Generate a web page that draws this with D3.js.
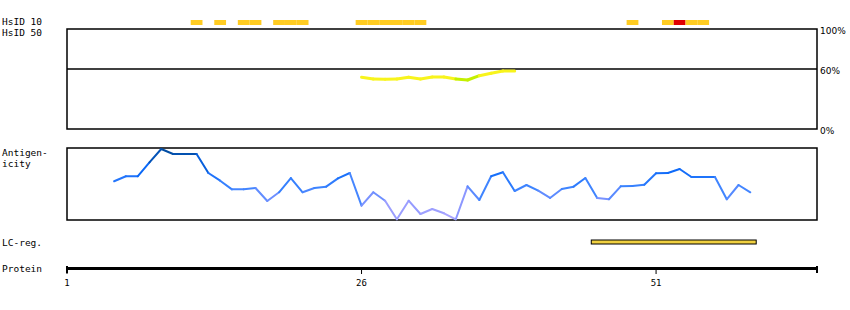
<!DOCTYPE html>
<html>
<head>
<meta charset="utf-8">
<script src="https://cdn.jsdelivr.net/npm/d3@7"></script>
<style>
body { margin: 0; background: #fff; }
text { font-family: "DejaVu Sans Mono", monospace; font-size: 10px; fill: #000; }
.pct { font-family: "DejaVu Sans", sans-serif; font-size: 9px; }
</style>
</head>
<body>
<div id="chart"></div>
<script>
// protein length and axis ticks
let proteinLength = 64;
let proteinTicks = [1, 26, 51];

// HsID 10 hits: residue -> level (1 = orange, 2 = red)
let hsid10Residues = [12, 14, 16, 17, 19, 20, 21, 26, 27, 28, 29, 30, 31, 49, 52, 53, 54, 55];
let hsid10Levels   = [1, 1, 1, 1, 1, 1, 1, 1, 1, 1, 1, 1, 1, 1, 1, 2, 1, 1];

// HsID 50 identity (%)
let hsid50Residues = [26, 27, 28, 29, 30, 31, 32, 33, 34, 35, 36, 37, 38, 39];
let hsid50Values   = [51.7, 50, 49.7, 50, 51.7, 50, 52, 52, 50, 49, 53.3, 55.7, 58, 58];
let hsid50Ticks = [0, 60, 100];

// antigenicity score (0-100 relative)
let antigenResidues = d3.range(5, 60);
let antigenValues = [
    53.8, 60.7, 60.7, 80.1, 98.6, 91.7, 91.7, 91.7, 65.3, 54.6,
    42.6, 42.6, 44.4, 26.4, 38.5, 58.3, 38.5, 44.4, 46.3, 57.9,
    65.3, 19.9, 38.5, 26.8, 1, 26.8, 8.3, 15.3, 9.3, 1,
    46.8, 27.8, 60.7, 66.3, 40.3, 48.6, 40.7, 30.6, 43.1, 46.3,
    58.3, 30.6, 28.8, 46.8, 47.2, 49, 64.9, 65.3, 70.8, 59.7,
    59.7, 59.7, 28.8, 48.6, 38.5
];

// low complexity region
let lcStart = 46, lcEnd = 59;

let width = 850, height = 310;
let x0 = 67, x1 = 817;

let svg = d3.select('#chart').append('svg')
    .attr('width', width)
    .attr('height', height);

let x = d3.scaleLinear()
    .domain([1, proteinLength + 0.66])
    .range([x0, x1]);
let step = x(2) - x(1);

// labels on the left
let labels = [
    ['HsID 10', 25], ['HsID 50', 36], ['Antigen-', 156], ['icity', 167],
    ['LC-reg.', 246], ['Protein', 272]
];
svg.selectAll('text.lab')
    .data(labels)
    .enter()
    .append('text')
    .attr('class', 'lab')
    .attr('x', 2)
    .attr('y', d => d[1])
    .style('font-size', '9.5px')
    .text(d => d[0]);

// HsID 10 bars
svg.selectAll('rect.hs10')
    .data(hsid10Residues)
    .enter()
    .append('rect')
    .attr('class', 'hs10')
    .attr('x', d => x(d - 0.5))
    .attr('y', 20)
    .attr('width', step)
    .attr('height', 5)
    .attr('fill', (d, i) => hsid10Levels[i] === 2 ? '#e00000' : '#ffcc22');

// HsID 50 panel
let yTop = d3.scaleLinear().domain([0, 100]).range([129, 29]);
svg.append('rect')
    .attr('x', x0).attr('y', yTop(100))
    .attr('width', x1 - x0).attr('height', yTop(0) - yTop(100))
    .attr('fill', 'none').attr('stroke', '#000').attr('stroke-width', 1.5);
svg.append('line')
    .attr('x1', x0).attr('x2', x1)
    .attr('y1', yTop(60)).attr('y2', yTop(60))
    .attr('stroke', '#000').attr('stroke-width', 1.5);
svg.selectAll('text.pct')
    .data(hsid50Ticks)
    .enter()
    .append('text')
    .attr('class', 'pct')
    .attr('x', x1 + 3)
    .attr('y', d => yTop(d) + 5)
    .text(d => d + '%');

let yellow = d3.scaleLinear().domain([49, 49.5]).range(['#c4f000', '#f8f41c']).clamp(true);
let hsSegs = d3.range(hsid50Residues.length - 1);
svg.selectAll('line.hs50')
    .data(hsSegs)
    .enter()
    .append('line')
    .attr('class', 'hs50')
    .attr('x1', i => x(hsid50Residues[i]))
    .attr('y1', i => yTop(hsid50Values[i]))
    .attr('x2', i => x(hsid50Residues[i + 1]))
    .attr('y2', i => yTop(hsid50Values[i + 1]))
    .attr('stroke', i => yellow(Math.min(hsid50Values[i], hsid50Values[i + 1])))
    .attr('stroke-width', 3)
    .attr('stroke-linecap', 'round');

// antigenicity panel
let yAg = d3.scaleLinear().domain([0, 100]).range([220, 148]);
svg.append('rect')
    .attr('x', x0).attr('y', yAg(100))
    .attr('width', x1 - x0).attr('height', yAg(0) - yAg(100))
    .attr('fill', 'none').attr('stroke', '#000').attr('stroke-width', 1.5);

let blue = d3.scaleLinear()
    .domain([0, 25, 45, 70, 100])
    .range(['#b0a8ff', '#8a96ff', '#3d84ff', '#0a68f8', '#004894']);
let agSegs = d3.range(antigenResidues.length - 1);
svg.selectAll('line.ag')
    .data(agSegs)
    .enter()
    .append('line')
    .attr('class', 'ag')
    .attr('x1', i => x(antigenResidues[i]))
    .attr('y1', i => yAg(antigenValues[i]))
    .attr('x2', i => x(antigenResidues[i + 1]))
    .attr('y2', i => yAg(antigenValues[i + 1]))
    .attr('stroke', i => blue((antigenValues[i] + antigenValues[i + 1]) / 2))
    .attr('stroke-width', 2)
    .attr('stroke-linecap', 'round');

// LC region
svg.append('rect')
    .attr('x', x(lcStart - 0.5))
    .attr('y', 240)
    .attr('width', x(lcEnd + 0.5) - x(lcStart - 0.5))
    .attr('height', 4)
    .attr('fill', '#f0d040')
    .attr('stroke', '#000')
    .attr('stroke-width', 1);

// protein axis
svg.append('line')
    .attr('x1', x0).attr('x2', x1)
    .attr('y1', 268.5).attr('y2', 268.5)
    .attr('stroke', '#000').attr('stroke-width', 3);
svg.selectAll('line.endtick')
    .data([x0, x1])
    .enter()
    .append('line')
    .attr('class', 'endtick')
    .attr('x1', d => d).attr('x2', d => d)
    .attr('y1', 266).attr('y2', 273)
    .attr('stroke', '#000').attr('stroke-width', 2);
svg.selectAll('line.tick')
    .data(proteinTicks)
    .enter()
    .append('line')
    .attr('class', 'tick')
    .attr('x1', d => x(d)).attr('x2', d => x(d))
    .attr('y1', 268).attr('y2', 274)
    .attr('stroke', '#000').attr('stroke-width', 1);
svg.selectAll('text.tl')
    .data(proteinTicks)
    .enter()
    .append('text')
    .attr('class', 'tl')
    .attr('x', d => x(d))
    .attr('y', 286)
    .attr('text-anchor', 'middle')
    .style('font-size', '9px')
    .text(d => d);
</script>
</body>
</html>
